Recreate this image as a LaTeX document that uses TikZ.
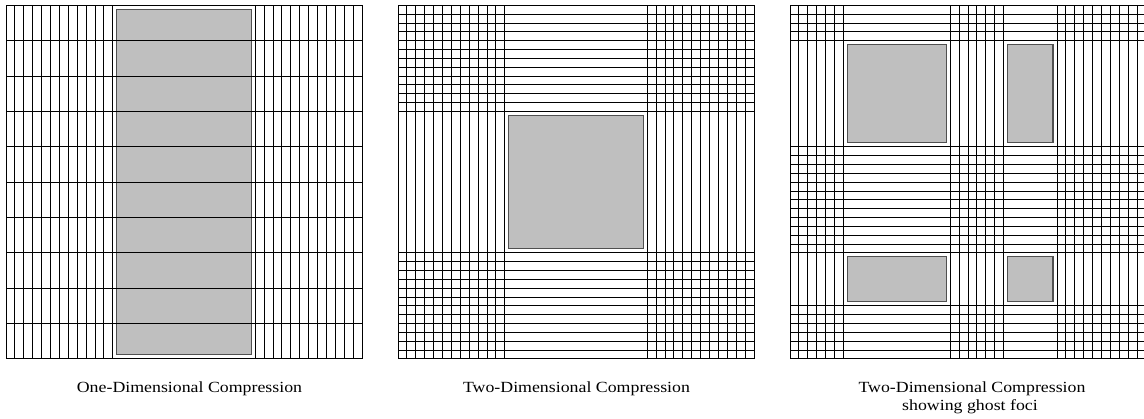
\documentclass[tikz,border=0pt]{standalone}
\usepackage{fontspec}
\newfontfamily\capfont[FakeStretch=1.15]{Liberation Serif}
\definecolor{fociFill}{HTML}{BFBFBF}
\definecolor{fociEdge}{HTML}{505050}
\tikzset{
  gridline/.style={line width=0.85pt, black},
  focus/.style={fill=fociFill, draw=fociEdge, line width=1.2pt},
  caption/.style={font=\capfont\fontsize{15.5}{17.6}\selectfont, anchor=base, inner sep=0pt},
  panel/.style={x=8.9pt, y=-8.84pt}
}
\begin{document}
\begin{tikzpicture}[x=1pt, y=-1pt]
\useasboundingbox (0,0) rectangle (1144,419);
\fill[white] (0,0) rectangle (1144,419);
% Panel 1: one-dimensional compression
\begin{scope}[shift={(6,5.3)}, panel]
  \draw[focus] (12.45,0.5) rectangle (27.55,39.5);
  \foreach \i in {0,...,12,28,29,...,40} \draw[gridline] (\i,0) -- (\i,40);
  \foreach \j in {0,4,...,40} \draw[gridline] (0,\j) -- (40,\j);
\end{scope}
% Panel 2: two-dimensional compression
\begin{scope}[shift={(398,5.3)}, panel]
  \foreach \i in {0,...,12,28,29,...,40} \draw[gridline] (\i,0) -- (\i,40);
  \foreach \j in {0,...,12,28,29,...,40} \draw[gridline] (0,\j) -- (40,\j);
  \draw[focus] (12.45,12.45) rectangle (27.55,27.55);
\end{scope}
% Panel 3: ghost foci
\begin{scope}[shift={(790,5.3)}, panel]
  \foreach \i in {0,...,6,18,19,...,24,30,31,...,40} \draw[gridline] (\i,0) -- (\i,40);
  \foreach \j in {0,...,4,16,17,...,28,34,35,...,40} \draw[gridline] (0,\j) -- (40,\j);
  \draw[focus] (6.45,4.45) rectangle (17.55,15.55);
  \draw[focus] (24.45,4.45) rectangle (29.55,15.55);
  \draw[focus] (6.45,28.45) rectangle (17.55,33.55);
  \draw[focus] (24.45,28.45) rectangle (29.55,33.55);
\end{scope}
\node[caption] (cap1) at (189.5,393) {One-Dimensional Compression};
\node[caption] (cap2) at (576.5,393) {Two-Dimensional Compression};
\node[caption] (cap3a) at (972,393) {Two-Dimensional Compression};
\node[caption] (cap3b) at (970,410.6) {showing ghost foci};
\end{tikzpicture}
\end{document}
